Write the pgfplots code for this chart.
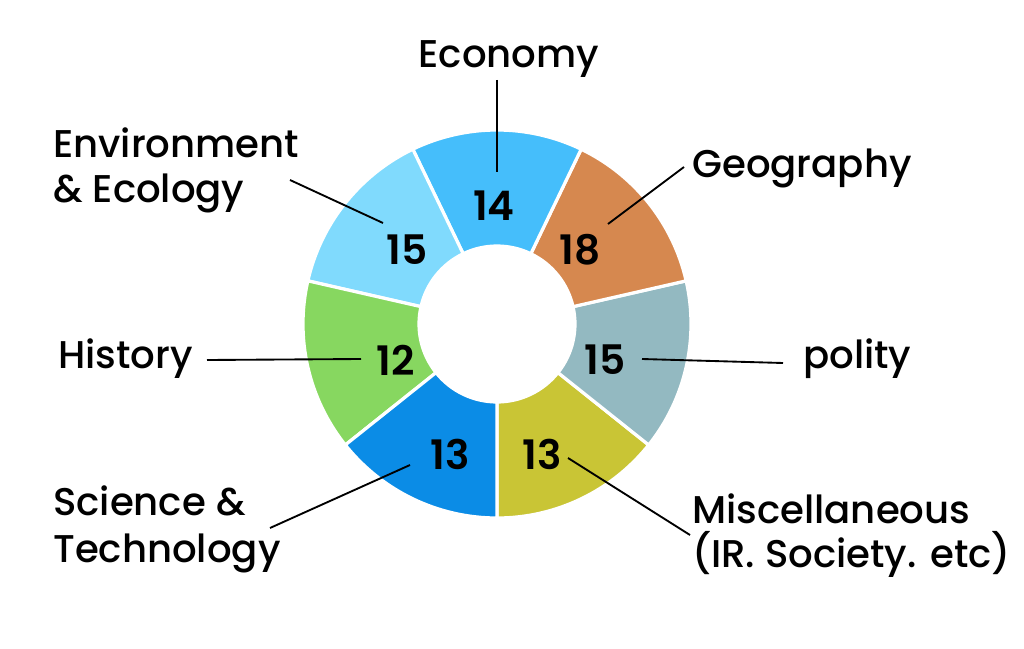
\documentclass[border=0pt]{standalone}
\usepackage{pgfplots}
\pgfplotsset{compat=1.18}
\usepackage{fontspec}
\setmainfont{Poppins}
\newfontfamily\lblfont{Poppins Medium}
\newfontfamily\numfont{Poppins SemiBold}
\definecolor{cEco}{HTML}{45BEFB}
\definecolor{cGeo}{HTML}{D6884F}
\definecolor{cPol}{HTML}{93B9C1}
\definecolor{cMis}{HTML}{C9C535}
\definecolor{cSci}{HTML}{0B8CE6}
\definecolor{cHis}{HTML}{87D760}
\definecolor{cEnv}{HTML}{80DAFD}
% segment: start angle, end angle, colour
\newcommand{\seg}[3]{%
  \fill[#3, draw=white, line width=2.4pt]
    (axis cs:{497+194*cos(#1)},{324-194*sin(#1)})
    arc[start angle=#1, end angle=#2, radius=145.5pt]
    -- (axis cs:{497+78*cos(#2)},{324-78*sin(#2)})
    arc[start angle=#2, end angle=#1, radius=58.5pt] -- cycle;}
\begin{document}
\begin{tikzpicture}
\begin{axis}[
  scale only axis, width=768pt, height=486.75pt,
  xmin=0, xmax=1024, ymin=0, ymax=649, y dir=reverse,
  hide axis, clip=false]
\fill[white] (axis cs:0,0) rectangle (axis cs:1024,649);
% equal sectors of 360/7 degrees
\seg{270}{321.4286}{cMis}
\seg{321.4286}{372.8571}{cPol}
\seg{12.8571}{64.2857}{cGeo}
\seg{64.2857}{115.7143}{cEco}
\seg{115.7143}{167.1429}{cEnv}
\seg{167.1429}{218.5714}{cHis}
\seg{218.5714}{270}{cSci}
% leader lines
\begin{scope}[line width=1.4pt, black]
\draw (axis cs:497,80) -- (axis cs:497,172);
\draw (axis cs:290,180) -- (axis cs:383,223);
\draw (axis cs:608,224) -- (axis cs:684,167);
\draw (axis cs:642,359) -- (axis cs:783,363);
\draw (axis cs:207,360) -- (axis cs:361,359);
\draw (axis cs:270,528) -- (axis cs:410,465);
\draw (axis cs:568,458) -- (axis cs:690,535);
\end{scope}
% values
\begin{scope}[every node/.style={inner sep=0pt, anchor=center, font=\numfont\fontsize{30.5}{34}\selectfont}]
\node at (axis cs:494,206) {14};
\node at (axis cs:407,250) {15};
\node at (axis cs:580,250) {18};
\node at (axis cs:396,360) {12};
\node at (axis cs:605,360) {15};
\node at (axis cs:450,454) {13};
\node at (axis cs:542,454) {13};
\end{scope}
% category labels
\begin{scope}[every node/.style={inner sep=0pt, anchor=base west, font=\lblfont\fontsize{29}{34}\selectfont}]
\node[anchor=base] at (axis cs:509,68) {Economy};
\node at (axis cs:53,157) {Environment};
\node at (axis cs:53,203) {\& Ecology};
\node at (axis cs:692,177) {Geography};
\node at (axis cs:803,368) {polity};
\node at (axis cs:58,368) {History};
\node at (axis cs:53,515) {Science \&};
\node at (axis cs:53,562) {Technology};
\node at (axis cs:692,523) {Miscellaneous};
\node at (axis cs:692,567) {(IR. Society. etc)};
\end{scope}
\end{axis}
\end{tikzpicture}
\end{document}
